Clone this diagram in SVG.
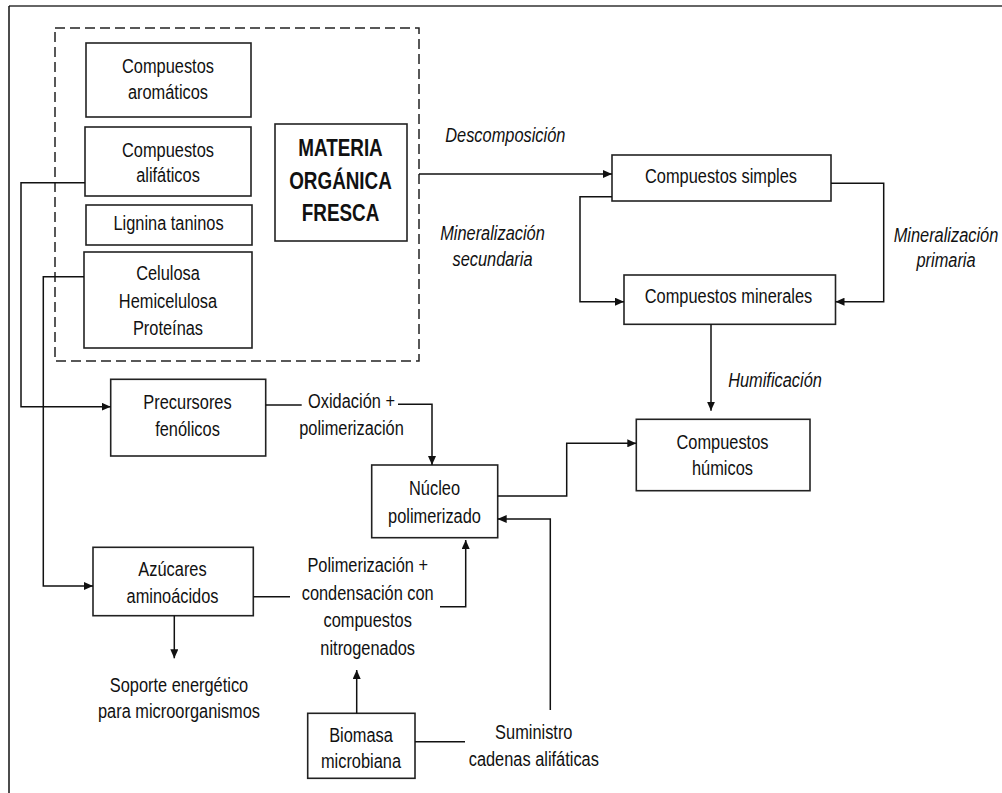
<svg xmlns="http://www.w3.org/2000/svg" width="1002" height="793" viewBox="0 0 1002 793">
<defs>
<marker id="arr" markerUnits="userSpaceOnUse" markerWidth="9" markerHeight="8" refX="9" refY="4" orient="auto">
<path d="M0,0 L9,4 L0,8 z" fill="#111"/>
</marker>
<style>
.box{fill:#fff;stroke:#222;stroke-width:1.6}
.t{font-family:"Liberation Sans",Arial,sans-serif;font-size:21px;fill:#111;text-anchor:middle}
.i{font-style:italic}
.b{font-family:"Liberation Sans",Arial,sans-serif;font-size:23px;font-weight:bold;fill:#111;text-anchor:middle}
.c{fill:none;stroke:#111;stroke-width:1.5}
.ca{fill:none;stroke:#111;stroke-width:1.5;marker-end:url(#arr)}
</style>
</defs>
<rect width="1002" height="793" fill="#fff"/>
<g id="frame">
<line x1="9" y1="6" x2="1002" y2="6" stroke="#666" stroke-width="2"/>
<line x1="9" y1="6" x2="9" y2="793" stroke="#111" stroke-width="1.5"/>
</g>
<g id="materia-group">
<rect x="55" y="28" width="364" height="333" fill="none" stroke="#222" stroke-width="1.5" stroke-dasharray="10,5"/>
</g>
<g id="aromaticos">
<rect class="box" x="86" y="43" width="165" height="74"/>
<text class="t" transform="translate(168,72.5) scale(0.78,1)"><tspan x="0">Compuestos</tspan><tspan x="0" dy="26.5">aromáticos</tspan></text>
</g>
<g id="alifaticos">
<rect class="box" x="85" y="127" width="166" height="69"/>
<text class="t" transform="translate(168,156.5) scale(0.78,1)"><tspan x="0">Compuestos</tspan><tspan x="0" dy="25.5">alifáticos</tspan></text>
</g>
<g id="lignina">
<rect class="box" x="86" y="205" width="166" height="40"/>
<text class="t" transform="translate(168.5,230) scale(0.78,1)">Lignina taninos</text>
</g>
<g id="celulosa">
<rect class="box" x="84" y="252" width="168" height="96"/>
<text class="t" transform="translate(168,280) scale(0.78,1)"><tspan x="0">Celulosa</tspan><tspan x="0" dy="28">Hemicelulosa</tspan><tspan x="0" dy="27">Proteínas</tspan></text>
</g>
<g id="materia">
<rect class="box" x="275" y="124" width="132" height="117"/>
<text class="b" transform="translate(340.5,156) scale(0.82,1)"><tspan x="0">MATERIA</tspan><tspan x="0" dy="33">ORGÁNICA</tspan><tspan x="0" dy="32.5">FRESCA</tspan></text>
</g>
<g id="simples">
<rect class="box" x="612" y="155" width="219" height="46"/>
<text class="t" transform="translate(721,183.3) scale(0.78,1)">Compuestos simples</text>
</g>
<g id="minerales">
<rect class="box" x="624" y="275" width="211.5" height="49.3"/>
<text class="t" transform="translate(728.5,303.3) scale(0.78,1)">Compuestos minerales</text>
</g>
<g id="humicos">
<rect class="box" x="636.3" y="419.3" width="173.7" height="71.4"/>
<text class="t" transform="translate(722.5,449) scale(0.78,1)"><tspan x="0">Compuestos</tspan><tspan x="0" dy="26">húmicos</tspan></text>
</g>
<g id="precursores">
<rect class="box" x="110.7" y="379.3" width="155" height="76.7"/>
<text class="t" transform="translate(187.5,409.3) scale(0.78,1)"><tspan x="0">Precursores</tspan><tspan x="0" dy="26.4">fenólicos</tspan></text>
</g>
<g id="nucleo">
<rect class="box" x="371.7" y="465" width="126" height="72.7"/>
<text class="t" transform="translate(434.5,495) scale(0.78,1)"><tspan x="0">Núcleo</tspan><tspan x="0" dy="28.3">polimerizado</tspan></text>
</g>
<g id="azucares">
<rect class="box" x="93" y="547.3" width="160.3" height="68.4"/>
<text class="t" transform="translate(172.5,576) scale(0.78,1)"><tspan x="0">Azúcares</tspan><tspan x="0" dy="27.3">aminoácidos</tspan></text>
</g>
<g id="soporte">
<text class="t" transform="translate(179,691.7) scale(0.78,1)"><tspan x="0">Soporte energético</tspan><tspan x="0" dy="26.6">para microorganismos</tspan></text>
</g>
<g id="biomasa">
<rect class="box" x="307.7" y="713.3" width="107.3" height="65"/>
<text class="t" transform="translate(361,741.7) scale(0.78,1)"><tspan x="0">Biomasa</tspan><tspan x="0" dy="26.6">microbiana</tspan></text>
</g>
<g id="connectors">
<path class="ca" d="M419,174 H612"/>
<path class="ca" d="M612,196.7 H580 V301.7 H624"/>
<path class="ca" d="M831,183.3 H883.7 V301.7 H835.5"/>
<path class="ca" d="M711,324.3 V410.7"/>
<path class="ca" d="M497.7,496 H566.7 V443.3 H636.3"/>
<path class="ca" d="M85,182.7 H21 V406.7 H110.7"/>
<path class="ca" d="M84,276.7 H43.3 V586 H93"/>
<path class="c" d="M265.7,405 H301.7"/>
<path class="ca" d="M398,404.3 H432 V465"/>
<path class="c" d="M253.3,596.7 H290"/>
<path class="ca" d="M440,606.7 H465.7 V540"/>
<path class="ca" d="M174.3,615.7 V658.3"/>
<path class="ca" d="M356.7,713.3 V670"/>
<path class="c" d="M415,741.7 H465"/>
<path class="ca" d="M550.3,710 V519 H497.7"/>
</g>
<g id="labels">
<text class="t i" transform="translate(505.3,141.7) scale(0.78,1)">Descomposición</text>
<text class="t i" transform="translate(492.5,240) scale(0.78,1)"><tspan x="0">Mineralización</tspan><tspan x="0" dy="26">secundaria</tspan></text>
<text class="t i" transform="translate(946,241.7) scale(0.78,1)"><tspan x="0">Mineralización</tspan><tspan x="0" dy="25.5">primaria</tspan></text>
<text class="t i" transform="translate(775,386.7) scale(0.78,1)">Humificación</text>
<text class="t" transform="translate(351.5,408.3) scale(0.78,1)"><tspan x="0">Oxidación +</tspan><tspan x="0" dy="26.7">polimerización</tspan></text>
<text class="t" transform="translate(367.7,571.7) scale(0.78,1)"><tspan x="0">Polimerización +</tspan><tspan x="0" dy="28.3">condensación con</tspan><tspan x="0" dy="26.7">compuestos</tspan><tspan x="0" dy="28.3">nitrogenados</tspan></text>
<text class="t" transform="translate(533.8,739.3) scale(0.78,1)"><tspan x="0">Suministro</tspan><tspan x="0" dy="26.7">cadenas alifáticas</tspan></text>
</g>
</svg>
